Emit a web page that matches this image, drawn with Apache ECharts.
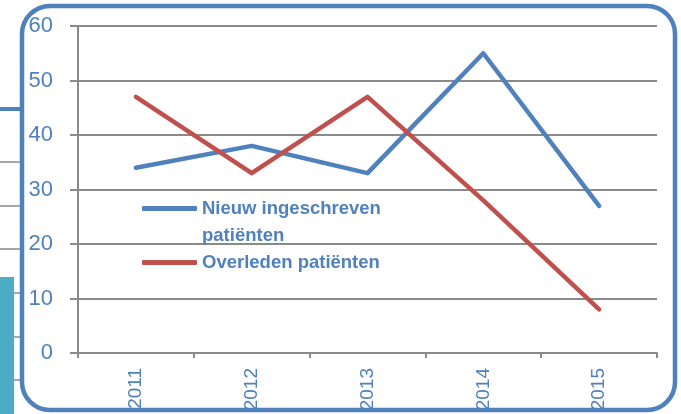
<!DOCTYPE html>
<html>
<head>
<meta charset="utf-8">
<script src="https://cdn.jsdelivr.net/npm/echarts@6/dist/echarts.min.js"></script>
<style>
  html, body { margin: 0; padding: 0; background: #fff; }
  #chart { width: 681px; height: 414px; }
</style>
</head>
<body>
<div id="chart"></div>
<script>
// data
const jaren = ['2011', '2012', '2013', '2014', '2015'];
const nieuw = [34, 38, 33, 55, 27];
const overleden = [47, 33, 47, 28, 8];
const yTicks = { min: 0, max: 60, interval: 10 };

const blauw = '#4f81bd';
const rood = '#c0504d';
const grijs = '#8a8a8a';

const myChart = echarts.init(document.getElementById('chart'));

// losse stukjes links van het kader
const leftBits = [];
[162, 206, 249, 293, 337, 380].forEach(function (y) {
  leftBits.push({
    type: 'line', z: 0,
    shape: { x1: 0, y1: y, x2: 20, y2: y },
    style: { stroke: grijs, lineWidth: 1.5 }
  });
});
leftBits.push({
  type: 'rect', z: 1,
  shape: { x: 0, y: 277, width: 14, height: 140 },
  style: { fill: '#4bacc6' }
});
leftBits.push({
  type: 'line', z: 1,
  shape: { x1: 0, y1: 109, x2: 22, y2: 109 },
  style: { stroke: blauw, lineWidth: 4 }
});

const option = {
  animation: false,
  grid: { left: 78, right: 24, top: 26, bottom: 61 },
  legend: {
    orient: 'vertical',
    left: 142,
    top: 168,
    padding: 0,
    itemGap: 0,
    itemWidth: 55,
    itemHeight: 5,
    icon: 'roundRect',
    data: ['Nieuw ingeschreven patiënten', 'Overleden patiënten'],
    // lege eerste regel zodat de eerste tekstregel naast het lijntje staat
    formatter: function (name) {
      return name === 'Nieuw ingeschreven patiënten' ? ' \nNieuw ingeschreven\npatiënten' : name;
    },
    textStyle: {
      color: blauw,
      fontFamily: 'Liberation Sans',
      fontWeight: 'bold',
      fontSize: 18.5,
      lineHeight: 27
    }
  },
  xAxis: {
    type: 'category',
    data: jaren,
    boundaryGap: true,
    axisLine: { lineStyle: { color: grijs, width: 2 } },
    axisTick: { show: true, length: 5, lineStyle: { color: grijs, width: 2 } },
    axisLabel: {
      rotate: 90,
      margin: 15,
      color: blauw,
      fontFamily: 'Liberation Sans',
      fontSize: 19
    }
  },
  yAxis: {
    type: 'value',
    min: yTicks.min,
    max: yTicks.max,
    interval: yTicks.interval,
    axisLine: { show: true, lineStyle: { color: grijs, width: 2 } },
    axisTick: { show: true, length: 8, lineStyle: { color: grijs, width: 2 } },
    splitLine: { lineStyle: { color: grijs, width: 2 } },
    axisLabel: {
      margin: 25,
      color: blauw,
      fontFamily: 'Liberation Sans',
      fontSize: 22
    }
  },
  series: [
    {
      name: 'Nieuw ingeschreven patiënten',
      type: 'line',
      data: nieuw,
      showSymbol: false,
      symbol: 'none',
      color: blauw,
      lineStyle: { width: 4.5, color: blauw, cap: 'round', join: 'round' }
    },
    {
      name: 'Overleden patiënten',
      type: 'line',
      data: overleden,
      showSymbol: false,
      symbol: 'none',
      color: rood,
      lineStyle: { width: 4.5, color: rood, cap: 'round', join: 'round' }
    }
  ],
  graphic: leftBits.concat([
    {
      type: 'rect', z: 2,
      shape: { x: 22, y: 6, width: 653, height: 404, r: 28 },
      style: { fill: 'none', stroke: blauw, lineWidth: 4.5 }
    }
  ])
};

myChart.setOption(option);
</script>
</body>
</html>
